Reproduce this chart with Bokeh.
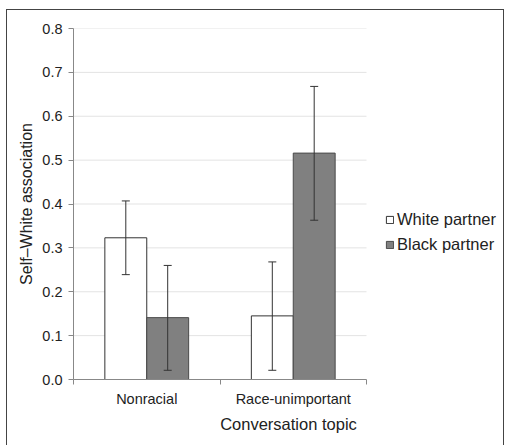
import numpy as np
from bokeh.plotting import figure
from bokeh.models import (ColumnDataSource, FixedTicker, Whisker, TeeHead, Legend,
                          LegendItem, NumeralTickFormatter, Range1d)
from bokeh.embed import file_html
from bokeh.resources import INLINE

# ---- data ----
topics = ["Nonracial", "Race-unimportant"]
series = ["White partner", "Black partner"]
white_means = [0.323, 0.145]
white_lower = [0.239, 0.021]
white_upper = [0.407, 0.268]
black_means = [0.141, 0.516]
black_lower = [0.021, 0.363]
black_upper = [0.260, 0.668]
y_ticks = [0.0, 0.1, 0.2, 0.3, 0.4, 0.5, 0.6, 0.7, 0.8]
y_title = "Self–White association"
x_title = "Conversation topic"

FONT = "Liberation Sans"
bar_w = 0.286
n = len(topics)
centers = np.arange(n) + 0.5
# the frame is widened to the right so the legend (drawn inside it) is not clipped
x_extent = n * 430 / 293

p = figure(width=498, height=436, output_backend="svg", toolbar_location=None,
           x_range=Range1d(0, x_extent), y_range=Range1d(0, 0.8),
           min_border_left=66, min_border_right=2, min_border_top=18,
           min_border_bottom=67)
p.styles = {"transform": "translate(6px, 9px)",
            "border-top": "1px solid #444", "border-left": "1px solid #444",
            "border-right": "1px solid #444"}
p.outline_line_color = None
p.background_fill_color = "white"

# horizontal grid lines limited to the category span
p.segment(x0=0, x1=n, y0=y_ticks[1:], y1=y_ticks[1:], line_color="#e3e3e3",
          line_width=1)

src_w = ColumnDataSource(dict(x=centers - bar_w / 2, top=white_means,
                              lo=white_lower, hi=white_upper))
src_b = ColumnDataSource(dict(x=centers + bar_w / 2, top=black_means,
                              lo=black_lower, hi=black_upper))

rw = p.vbar(x="x", top="top", width=bar_w, source=src_w, fill_color="white",
            line_color="#333333", line_width=1)
rb = p.vbar(x="x", top="top", width=bar_w, source=src_b, fill_color="#808080",
            line_color="#4a4a4a", line_width=1)

for src in (src_w, src_b):
    wk = Whisker(base="x", lower="lo", upper="hi", source=src, level="annotation",
                 line_color="#333333", line_width=1,
                 upper_head=TeeHead(size=8, line_color="#333333", line_width=1),
                 lower_head=TeeHead(size=8, line_color="#333333", line_width=1))
    p.add_layout(wk)

# y axis
p.yaxis.ticker = FixedTicker(ticks=y_ticks, minor_ticks=[])
p.yaxis.formatter = NumeralTickFormatter(format="0.0")
p.yaxis.axis_line_color = "#888888"
p.yaxis.major_tick_line_color = "#888888"
p.yaxis.major_tick_out = 5
p.yaxis.major_tick_in = 0
p.yaxis.minor_tick_line_color = None
p.yaxis.major_label_text_font = FONT
p.yaxis.major_label_text_font_size = "14.5px"
p.yaxis.major_label_text_color = "#222222"
p.yaxis.major_label_standoff = 6
p.yaxis.axis_label = y_title
p.yaxis.axis_label_text_font = FONT
p.yaxis.axis_label_text_font_size = "16px"
p.yaxis.axis_label_text_font_style = "normal"
p.yaxis.axis_label_text_color = "#222222"
p.yaxis.axis_label_standoff = 4

# x axis
p.xaxis.bounds = (0, n)
p.xaxis.ticker = FixedTicker(ticks=list(centers), minor_ticks=list(range(n + 1)))
p.xaxis.major_label_overrides = {float(c): tp for c, tp in zip(centers, topics)}
p.xaxis.axis_line_color = "#888888"
p.xaxis.major_tick_line_color = None
p.xaxis.major_tick_out = 0
p.xaxis.major_tick_in = 0
p.xaxis.minor_tick_line_color = "#888888"
p.xaxis.minor_tick_out = 5
p.xaxis.minor_tick_in = 0
p.xaxis.major_label_text_font = FONT
p.xaxis.major_label_text_font_size = "14.5px"
p.xaxis.major_label_text_color = "#222222"
p.xaxis.major_label_standoff = 6
p.xaxis.axis_label = x_title
p.xaxis.axis_label_text_font = FONT
p.xaxis.axis_label_text_font_size = "16.5px"
p.xaxis.axis_label_text_font_style = "normal"
p.xaxis.axis_label_text_color = "#222222"
p.xaxis.axis_label_standoff = 5

p.xgrid.grid_line_color = None
p.ygrid.grid_line_color = None

legend = Legend(items=[LegendItem(label=series[0], renderers=[rw]),
                       LegendItem(label=series[1], renderers=[rb])],
                location=(312, 125), orientation="vertical",
                label_text_font=FONT, label_text_font_size="16.5px",
                label_text_color="#222222", glyph_width=9, glyph_height=9,
                label_height=20, label_standoff=3, spacing=5, padding=0,
                margin=0, border_line_color=None, background_fill_alpha=0)
p.add_layout(legend, "center")

open("out.html", "w").write(file_html(p, INLINE))
